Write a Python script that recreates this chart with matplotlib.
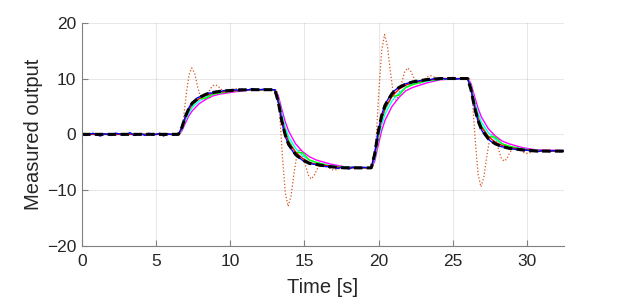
import numpy as np
import matplotlib
matplotlib.use("Agg")
import matplotlib.pyplot as plt

plt.rcParams['font.family'] = ['Liberation Sans', 'DejaVu Sans']

# step instants of the reference signal [s]
step_times = [6.5, 13.0, 19.5, 26.0]
t_end = 32.5

# sample offsets after each step (smooth responses)
smooth_offsets = [0, 0.23, 0.47, 0.70, 0.93, 1.4, 1.87, 2.33, 2.8, 3.73, 4.67]

black = [0,
         0, 1.2, 3.2, 4.6, 5.6, 6.6, 7.2, 7.5, 7.7, 7.9, 8.0,
         8.0, 5.9, 2.4, -0.1, -1.8, -3.6, -4.6, -5.2, -5.4, -5.8, -6.0,
         -6.0, -3.6, 0.4, 3.3, 5.2, 7.3, 8.4, 9.0, 9.4, 9.8, 10.0,
         10.0, 8.0, 4.8, 2.5, 0.9, -0.8, -1.7, -2.2, -2.5, -2.8, -3.0,
         -3.0]
red = [0,
       0, 1.0, 3.0, 4.4, 5.4, 6.4, 7.0, 7.4, 7.6, 7.8, 8.0,
       8.0, 6.2, 2.8, 0.3, -1.4, -3.2, -4.3, -5.0, -5.4, -5.7, -6.0,
       -6.0, -3.9, -0.1, 2.8, 4.7, 6.8, 8.1, 8.8, 9.3, 9.7, 10.0,
       10.0, 8.3, 5.2, 2.9, 1.3, -0.4, -1.4, -2.0, -2.4, -2.7, -3.0,
       -3.0]
green = [0,
         0, 1.0, 2.8, 4.2, 5.2, 6.4, 6.5, 7.2, 7.4, 7.8, 8.0,
         8.0, 6.3, 3.1, 0.6, -1.1, -3.2, -3.3, -4.6, -5.0, -5.7, -5.9,
         -6.0, -4.1, -0.4, 2.5, 4.4, 6.8, 7.0, 8.4, 8.9, 9.6, 9.9,
         10.0, 8.4, 5.5, 3.1, 1.6, -0.4, -0.5, -1.7, -2.1, -2.7, -2.9,
         -3.0]
cyan = [0,
        0, 0.8, 2.5, 3.8, 4.8, 6.0, 6.7, 7.2, 7.5, 7.8, 8.0,
        8.0, 6.6, 3.7, 1.3, -0.4, -2.5, -3.8, -4.6, -5.1, -5.6, -5.9,
        -6.0, -4.4, -1.0, 1.7, 3.6, 6.0, 7.4, 8.4, 9.0, 9.5, 9.9,
        10.0, 8.7, 6.0, 3.8, 2.2, 0.3, -0.9, -1.7, -2.2, -2.6, -2.9,
        -3.0]
magenta = [0,
           0, 0.6, 2.0, 3.3, 4.2, 5.5, 6.3, 6.9, 7.2, 7.6, 7.9,
           8.0, 7.0, 4.5, 2.3, 0.6, -1.7, -3.1, -4.0, -4.6, -5.3, -5.8,
           -6.0, -4.9, -2.0, 0.6, 2.5, 5.0, 6.6, 7.8, 8.4, 9.2, 9.8,
           10.0, 9.1, 6.8, 4.7, 3.1, 1.0, -0.3, -1.2, -1.7, -2.4, -2.8,
           -2.9]

# oscillating (underdamped) response, sampled after each step
orange_offsets = [0.13, 0.32, 0.51, 0.71, 0.90, 1.10, 1.29, 1.48, 1.68, 1.87,
                  2.07, 2.26, 2.45, 2.65, 2.84, 3.04, 3.23, 3.42, 3.62, 3.81,
                  4.01, 4.20, 4.39, 4.59, 4.78]
orange_1 = [0, 2.2, 6.7, 10.6, 11.9, 10.9, 8.6, 6.7, 6.1, 6.6, 7.7, 8.6, 8.9,
            8.7, 8.2, 7.7, 7.5, 7.7, 7.9, 8.2, 8.2, 8.2, 8.0, 7.9, 7.9]
orange_2 = [8, 4.2, -3.8, -10.5, -12.9, -11.0, -7.1, -3.8, -2.6, -3.6, -5.5, -7.3, -8.0,
            -7.4, -6.3, -5.5, -5.2, -5.4, -5.9, -6.3, -6.4, -6.3, -6.1, -5.9, -5.8]
orange_3 = [-6, -1.6, 7.5, 15.1, 17.9, 15.7, 11.3, 7.5, 6.1, 7.2, 9.4, 11.2, 11.9,
            11.4, 10.3, 9.4, 9.1, 9.3, 9.9, 10.3, 10.5, 10.3, 10.1, 9.9, 9.8]
orange_4 = [10, 6.4, -0.9, -7.2, -9.4, -7.6, -4.0, -0.9, 0.1, -0.7, -2.5, -4.2, -4.8,
            -4.4, -3.3, -2.5, -2.3, -2.5, -2.9, -3.3, -3.4, -3.3, -3.1, -2.9, -2.8]

# noisy measurement, sampled every 0.25 s from 0 to 32.5
blue = [0.1, -0.2, 0.0, 0.2, -0.1, -0.3, 0.1, 0.0, -0.2, 0.2, 0.1, -0.1, 0.0,
        0.3, -0.2, 0.0, 0.1, -0.2, 0.2, -0.1, 0.0, 0.2, -0.3, 0.1, 0.0, -0.1,
        0.0, 1.4, 3.5, 5.0, 5.8, 6.5, 6.8, 7.0, 7.4, 7.4, 7.7, 7.6, 7.8,
        7.9, 7.8, 8.0, 7.9, 8.1, 7.9, 8.0, 8.2, 7.9, 8.0, 8.1, 7.9, 8.0,
        8.0, 5.5, 1.8, -0.7, -2.2, -3.2, -4.0, -4.4, -4.9, -5.0, -5.3, -5.4, -5.6,
        -5.7, -5.8, -5.7, -5.9, -6.1, -5.9, -6.0, -6.2, -5.9, -6.0, -6.1, -5.9, -6.0,
        -6.0, -3.1, 1.0, 3.9, 5.7, 6.8, 7.7, 8.2, 8.6, 9.0, 9.2, 9.4, 9.5,
        9.6, 9.7, 9.8, 9.8, 10.0, 9.9, 10.1, 9.9, 10.0, 10.2, 9.9, 10.0, 10.1,
        10.0, 7.7, 4.3, 1.9, 0.5, -0.4, -1.1, -1.6, -1.9, -2.2, -2.3, -2.5, -2.6,
        -2.7, -2.7, -2.9, -2.8, -3.0, -2.9, -3.1, -2.9, -3.0, -3.1, -2.9, -3.0, -3.1,
        -3.0]

t_smooth = [0.0] + [s + o for s in step_times for o in smooth_offsets] + [t_end]
t_orange = [0.0] + [s + o for s in step_times for o in orange_offsets] + [t_end]
orange = [0.0] + orange_1 + orange_2 + orange_3 + orange_4 + [-3.0]
t_blue = np.linspace(0, t_end, len(blue))

fig = plt.figure(figsize=(6.23, 3.01), dpi=100)
ax = fig.add_axes([0.1316, 0.1827, 0.7737, 0.7419])

ax.plot(t_orange, orange, ':', color=(0.85, 0.325, 0.098), lw=0.9)
ax.plot(t_smooth, magenta, color=(1, 0, 1), lw=1.0)
ax.plot(t_smooth, cyan, color=(0, 1, 1), lw=1.0)
ax.plot(t_smooth, green, color=(0, 1, 0), lw=1.0)
ax.plot(t_smooth, red, color=(1, 0, 0), lw=1.0)
ax.plot(t_blue, blue, color=(0, 0, 1), lw=1.0)
ax.plot(t_smooth, black, color='k', lw=2.2, dashes=(2.8, 1.4))

ax.set_xlim(0, t_end)
ax.set_ylim(-20, 20)
ax.set_xticks([0, 5, 10, 15, 20, 25, 30])
ax.set_yticks([-20, -10, 0, 10, 20])
ax.grid(True, color=(0.15, 0.15, 0.15), alpha=0.1, lw=0.8)
ax.set_axisbelow(True)
for side in ['top', 'right']:
    ax.spines[side].set_visible(False)
for side in ['left', 'bottom']:
    ax.spines[side].set_color((0.5, 0.5, 0.5))
    ax.spines[side].set_linewidth(0.8)
ax.tick_params(direction='in', length=4, width=0.8, color=(0.5, 0.5, 0.5),
               labelsize=12.5, labelcolor=(0.15, 0.15, 0.15))
ax.tick_params(axis='x', pad=6)
ax.tick_params(axis='y', pad=4)
ax.set_xlabel('Time [s]', fontsize=14.5, color=(0.15, 0.15, 0.15), labelpad=6)
ax.set_ylabel('Measured output', fontsize=14.5, color=(0.15, 0.15, 0.15), labelpad=3)

fig.savefig('out.png', dpi=100)
